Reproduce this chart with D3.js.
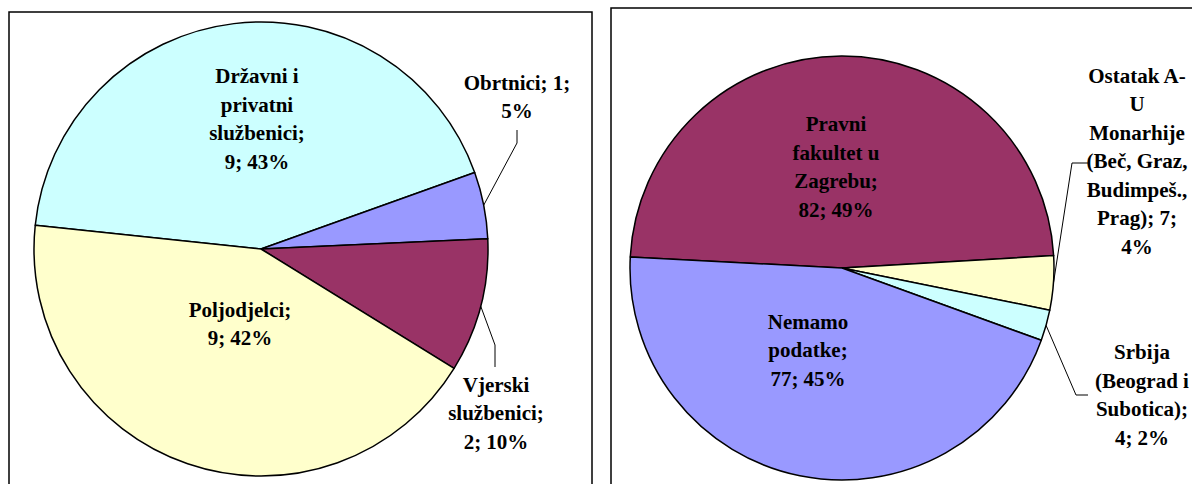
<!DOCTYPE html>
<html>
<head>
<meta charset="utf-8">
<script src="https://cdn.jsdelivr.net/npm/d3@7"></script>
<style>
  body { margin: 0; background: #fff; }
</style>
</head>
<body>
<svg width="1192" height="484"></svg>
<script>
// 01 data - left chart (zanimanja)
let names1 = ["Državni i\nprivatni\nslužbenici", "Obrtnici", "Vjerski\nslužbenici", "Poljodjelci"];
let values1 = [9, 1, 2, 9];
let pcts1 = [43, 5, 10, 42];
let colors1 = ["#ccffff", "#9999ff", "#993366", "#ffffcc"];

// 02 data - right chart (mjesto studija)
let names2 = ["Pravni\nfakultet u\nZagrebu", "Ostatak A-\nU\nMonarhije\n(Beč, Graz,\nBudimpeš.,\nPrag)", "Srbija\n(Beograd i\nSubotica)", "Nemamo\npodatke"];
let values2 = [82, 7, 4, 77];
let pcts2 = [49, 4, 2, 45];
let colors2 = ["#993366", "#ffffcc", "#ccffff", "#9999ff"];

// how each label is broken into lines
let patterns1 = ["{n};\n{v}; {p}", "{n}; {v};\n{p}", "{n};\n{v}; {p}", "{n};\n{v}; {p}"];
let patterns2 = ["{n};\n{v}; {p}", "{n}; {v};\n{p}", "{n};\n{v}; {p}", "{n};\n{v}; {p}"];

// label placement relative to pie centre (layout only)
let layout1 = [
  { lx: -4, ly: -130 },
  { lx: 256, ly: -152, leader: [[256, -106], [256, -119]] },
  { lx: 235, ly: 164, leader: [[234, 96], [234, 118]] },
  { lx: -21, ly: 75 },
];
let layout2 = [
  { lx: -6, ly: -101 },
  { lx: 295, ly: -107, leader: [[230, -105], [246, -105]] },
  { lx: 300, ly: 127, leader: [[234, 127], [246, 127]] },
  { lx: -34, ly: 82 },
];

let svg = d3.select("svg");
let lineH = 28.5;

// panel frames
svg.append("rect").attr("x", 9).attr("y", 12).attr("width", 583).attr("height", 490)
  .attr("fill", "none").attr("stroke", "#000").attr("stroke-width", 1.5);
svg.append("rect").attr("x", 611).attr("y", 8).attr("width", 600).attr("height", 490)
  .attr("fill", "none").attr("stroke", "#000").attr("stroke-width", 1.5);

function drawPie(cfg) {
  let rows = cfg.values.map(function (v, i) {
    return { name: cfg.names[i], value: v, pct: cfg.pcts[i], color: cfg.colors[i], pattern: cfg.patterns[i], pos: cfg.layout[i] };
  });

  let start = (cfg.startDeg * Math.PI) / 180;
  let pie = d3.pie().sort(null).value(function (d) { return d.value; })
    .startAngle(start).endAngle(start + 2 * Math.PI);
  let arc = d3.arc().innerRadius(0).outerRadius(cfg.r);

  let g = svg.append("g").attr("transform", "translate(" + cfg.cx + "," + cfg.cy + ")");
  let arcs = pie(rows);

  g.selectAll("path.slice")
    .data(arcs)
    .enter()
    .append("path")
    .attr("class", "slice")
    .attr("d", arc)
    .attr("fill", function (d) { return d.data.color; })
    .attr("stroke", "#000")
    .attr("stroke-width", 1.5)
    .attr("stroke-linejoin", "round");

  // leader lines for the outside labels
  g.selectAll("polyline.leader")
    .data(arcs.filter(function (d) { return d.data.pos.leader; }))
    .enter()
    .append("polyline")
    .attr("class", "leader")
    .attr("fill", "none")
    .attr("stroke", "#000")
    .attr("stroke-width", 1)
    .attr("points", function (d) {
      let a = (d.startAngle + d.endAngle) / 2;
      let p0 = [cfg.r * Math.sin(a), -cfg.r * Math.cos(a)];
      return [p0].concat(d.data.pos.leader).map(function (p) { return p.join(","); }).join(" ");
    });

  g.selectAll("text.lbl")
    .data(arcs)
    .enter()
    .append("text")
    .attr("class", "lbl")
    .attr("text-anchor", "middle")
    .attr("font-family", "Liberation Serif")
    .attr("font-weight", "bold")
    .attr("font-size", 21)
    .attr("fill", "#000")
    .each(function (d) {
      let txt = d.data.pattern
        .replace("{n}", d.data.name)
        .replace("{v}", d.data.value)
        .replace("{p}", d.data.pct + "%");
      let lines = txt.split("\n");
      let y0 = d.data.pos.ly - ((lines.length - 1) * lineH) / 2 + 7;
      d3.select(this)
        .selectAll("tspan")
        .data(lines)
        .enter()
        .append("tspan")
        .attr("x", d.data.pos.lx)
        .attr("y", function (l, i) { return y0 + i * lineH; })
        .text(function (l) { return l; });
    });
}

drawPie({ names: names1, values: values1, pcts: pcts1, colors: colors1, patterns: patterns1, layout: layout1,
  cx: 261, cy: 249, r: 227, startDeg: -84 });
drawPie({ names: names2, values: values2, pcts: pcts2, colors: colors2, patterns: patterns2, layout: layout2,
  cx: 842, cy: 268, r: 212, startDeg: -87 });
</script>
</body>
</html>
